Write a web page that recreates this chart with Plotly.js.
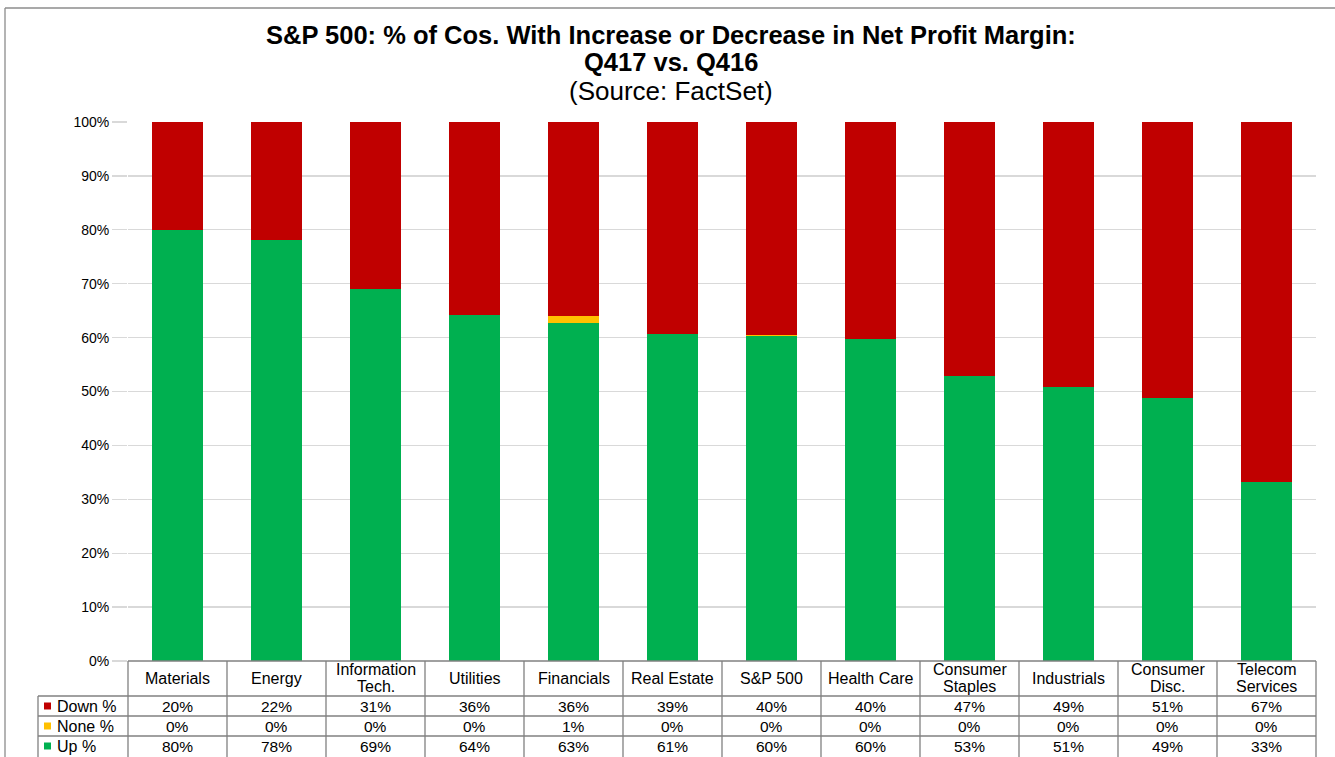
<!DOCTYPE html>
<html>
<head>
<meta charset="utf-8">
<script src="https://cdn.plot.ly/plotly-3.0.1.min.js"></script>
<style>
  body { margin: 0; background: #fff; }
  #chart { width: 1335px; height: 757px; }
</style>
</head>
<body>
<div id="chart"></div>
<script>
// sectors, in chart order
var sectors = ['Materials', 'Energy', 'Information<br>Tech.', 'Utilities', 'Financials', 'Real Estate',
  'S&P 500', 'Health Care', 'Consumer<br>Staples', 'Industrials', 'Consumer<br>Disc.', 'Telecom<br>Services'];

// bar heights (%)
var upPct   = [80.0, 78.1, 69.0, 64.2, 62.7, 60.7, 60.3, 59.7, 52.9, 50.8, 48.8, 33.2];
var nonePct = [0, 0, 0, 0, 1.4, 0, 0.2, 0, 0, 0, 0, 0];
var downPct = [20.0, 21.9, 31.0, 35.8, 35.9, 39.3, 39.5, 40.3, 47.1, 49.2, 51.2, 66.8];

// values as printed in the table
var downLbl = ['20%', '22%', '31%', '36%', '36%', '39%', '40%', '40%', '47%', '49%', '51%', '67%'];
var noneLbl = ['0%', '0%', '0%', '0%', '1%', '0%', '0%', '0%', '0%', '0%', '0%', '0%'];
var upLbl   = ['80%', '78%', '69%', '64%', '63%', '61%', '60%', '60%', '53%', '51%', '49%', '33%'];

var titleLines = ['S&P 500: % of Cos. With Increase or Decrease in Net Profit Margin:', 'Q417 vs. Q416', '(Source: FactSet)'];

var red = '#C00000', yellow = '#FFC000', green = '#00B050';
var xs = sectors.map(function (s, i) { return i; });

var data = [
  { x: xs, y: upPct, type: 'bar', name: 'Up %', marker: { color: green } },
  { x: xs, y: nonePct, type: 'bar', name: 'None %', marker: { color: yellow } },
  { x: xs, y: downPct, type: 'bar', name: 'Down %', marker: { color: red } }
];
// bars are in % so scale to the 0..1 axis
data.forEach(function (t) { t.y = t.y.map(function (v) { return v / 100; }); });

// plot area: left 128, right 1316, top 122, bottom 661 (px)
var L = 128, R = 1316, T = 122, B = 661;
var W = R - L, H = B - T;
function px(v) { return (v - L) / W; }   // page x -> paper x
function py(v) { return (B - v) / H; }   // page y -> paper y

var FONT = 'Liberation Sans, Arial, sans-serif';
var grey = '#808080';
var shapes = [];
function line(x0, y0, x1, y1, c) {
  shapes.push({ type: 'line', xref: 'paper', yref: 'paper', x0: px(x0), y0: py(y0), x1: px(x1), y1: py(y1),
    line: { color: c || grey, width: 1.3 } });
}
// table grid
var rows = [661, 696, 716, 736, 756];
line(L, 661, R, 661);
for (var r = 1; r < rows.length - 1; r++) line(38, rows[r], R, rows[r]);
for (var k = 0; k <= sectors.length; k++) {
  var xx = L + k * W / sectors.length;
  line(xx, 661, xx, 760);
}
line(38, 696, 38, 760);
// outer frame of the chart
line(5, 8, 1340, 8, '#8c8c8c');
line(5, 8, 5, 760, '#8c8c8c');

var annotations = [];
var tf = { family: FONT, size: 15.5, color: '#000' };
sectors.forEach(function (s, i) {
  var parts = s.split('<br>');
  var ys = parts.length > 1 ? [669.5, 686.5] : [678.5];
  parts.forEach(function (p, n) {
    annotations.push({ x: i, y: py(ys[n]), xref: 'x', yref: 'paper', text: p, showarrow: false,
      font: { family: FONT, size: 16, color: '#000' }, xanchor: 'center', yanchor: 'middle' });
  });
  [downLbl, noneLbl, upLbl].forEach(function (arr, j) {
    annotations.push({ x: i, y: py((rows[j + 1] + rows[j + 2]) / 2), xref: 'x', yref: 'paper',
      text: arr[i], showarrow: false, font: tf, xanchor: 'center', yanchor: 'middle' });
  });
});
// row keys of the data table
var legendRows = [['Down %', red], ['None %', yellow], ['Up %', green]];
legendRows.forEach(function (lr, j) {
  var cy = (rows[j + 1] + rows[j + 2]) / 2;
  shapes.push({ type: 'rect', xref: 'paper', yref: 'paper', x0: px(44), x1: px(51), y0: py(cy - 3.5), y1: py(cy + 3.5),
    fillcolor: lr[1], line: { width: 0 } });
  annotations.push({ x: px(55), y: py(cy), xref: 'paper', yref: 'paper',
    text: lr[0], showarrow: false,
    font: { family: FONT, size: 16, color: '#000' }, xanchor: 'left', yanchor: 'middle' });
});
// title, three lines
var titleY = [35, 62, 91];
titleLines.forEach(function (t, j) {
  annotations.push({ x: (671 - L) / W, y: py(titleY[j]), xref: 'paper', yref: 'paper',
    text: j < 2 ? '<b>' + t + '</b>' : t, showarrow: false,
    font: { family: FONT, size: j < 2 ? 25.5 : 26, color: '#000' }, xanchor: 'center', yanchor: 'middle' });
});

var layout = {
  width: 1335,
  height: 757,
  margin: { l: L, r: 1335 - R, t: T, b: 757 - B },
  paper_bgcolor: '#fff',
  plot_bgcolor: '#fff',
  barmode: 'stack',
  bargap: 0.485,
  showlegend: false,
  xaxis: {
    range: [-0.5, sectors.length - 0.5],
    showticklabels: false,
    showgrid: false,
    zeroline: false,
    ticks: ''
  },
  yaxis: {
    range: [0, 1],
    tickvals: [0, 0.1, 0.2, 0.3, 0.4, 0.5, 0.6, 0.7, 0.8, 0.9, 1],
    tickformat: '.0%',
    showgrid: true,
    gridcolor: '#d9d9d9',
    gridwidth: 1.3,
    zeroline: false,
    ticks: 'outside',
    ticklen: 15,
    tickcolor: '#d9d9d9',
    tickwidth: 1.3,
    tickfont: { family: FONT, size: 14, color: '#000' }
  },
  shapes: shapes,
  annotations: annotations
};

Plotly.newPlot('chart', data, layout, { staticPlot: true });
</script>
</body>
</html>
